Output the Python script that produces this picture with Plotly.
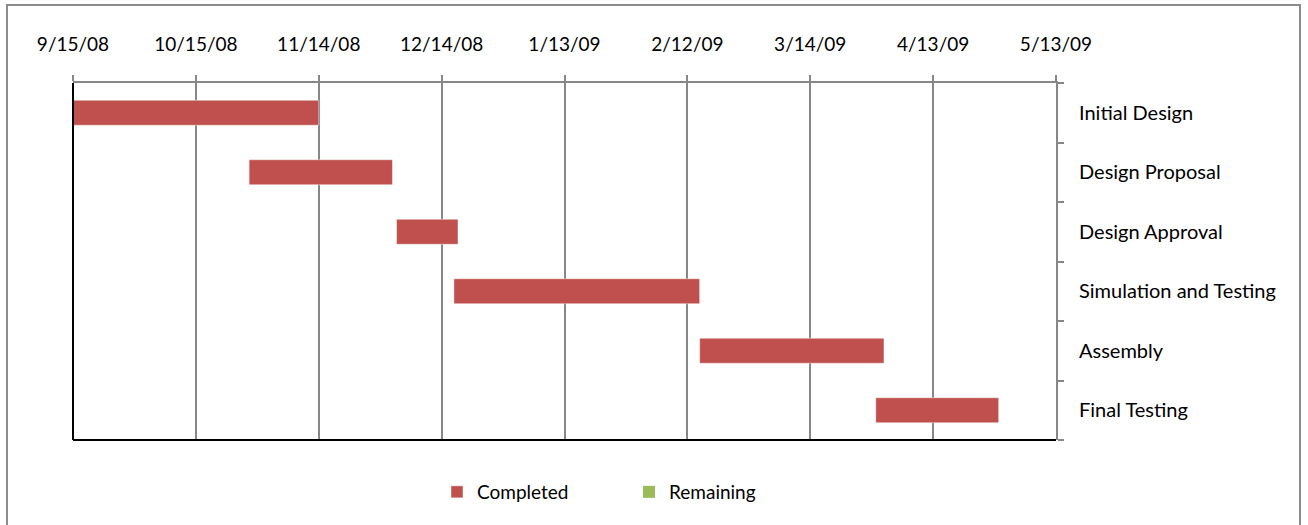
import plotly.graph_objects as go
import pandas as pd

tasks = ["Initial Design", "Design Proposal", "Design Approval",
         "Simulation and Testing", "Assembly", "Final Testing"]
start_dates = ["2008-09-15", "2008-10-28", "2008-12-03",
               "2008-12-17", "2009-02-15", "2009-03-30"]
completed_days = [60, 35, 15, 60, 45, 30]
remaining_days = [0, 0, 0, 0, 0, 0]

DAY_MS = 86400000
starts = pd.to_datetime(start_dates)
ends = [s + pd.Timedelta(days=d) for s, d in zip(starts, completed_days)]

fig = go.Figure()
fig.add_trace(go.Bar(
    y=tasks, x=[d * DAY_MS for d in completed_days],
    base=[s.strftime("%Y-%m-%d") for s in starts],
    orientation="h", name="Completed",
    marker=dict(color="#C0504D", line=dict(color="rgba(255,255,255,0.45)", width=1)),
    width=0.42,
))
fig.add_trace(go.Bar(
    y=tasks, x=[d * DAY_MS for d in remaining_days],
    base=[e.strftime("%Y-%m-%d") for e in ends],
    orientation="h", name="Remaining",
    marker=dict(color="#9BBB59", line=dict(width=0)),
    width=0.42,
))

W, H = 1308, 525
L, R, T, B = 73, 1308 - 1056, 83, 525 - 440
pw, ph = W - L - R, H - T - B

def px(x):
    return (x - L) / pw

def py(y):
    return (H - B - y) / ph

fig.update_layout(
    width=W, height=H,
    margin=dict(l=L, r=R, t=T, b=B),
    paper_bgcolor="white", plot_bgcolor="white",
    barmode="overlay",
    font=dict(family="Lato, 'Open Sans', sans-serif", size=19, color="#000000"),
    showlegend=True,
    legend=dict(orientation="h", x=px(437), xanchor="left", y=py(492), yanchor="middle",
                font=dict(size=19), entrywidth=147, itemwidth=30, traceorder="normal"),
    xaxis=dict(
        type="date", side="top",
        range=["2008-09-15", "2009-05-13"],
        tick0="2008-09-15", dtick=30 * DAY_MS,
        tickformat="%-m/%-d/%y",
        showgrid=True, gridcolor="#878787", gridwidth=2,
        showline=True, linecolor="#878787", linewidth=2,
        ticks="outside", ticklen=6, tickcolor="#878787", tickwidth=2,
        ticklabelstandoff=16,
        zeroline=False, fixedrange=True,
    ),
    yaxis=dict(
        type="category", side="right",
        categoryorder="array", categoryarray=tasks[::-1],
        showgrid=False,
        showline=True, linecolor="#878787", linewidth=2,
        ticks="outside", tickson="boundaries", ticklen=6, tickcolor="#878787", tickwidth=2,
        ticklabelstandoff=17, tickfont=dict(size=20),
        zeroline=False, fixedrange=True,
    ),
    shapes=[
        dict(type="line", xref="paper", yref="paper", x0=0, x1=1, y0=0, y1=0,
             line=dict(color="black", width=2), layer="above"),
        dict(type="line", xref="paper", yref="paper", x0=0, x1=0, y0=0, y1=1,
             line=dict(color="black", width=2), layer="above"),
        dict(type="rect", xref="paper", yref="paper",
             x0=px(7), x1=px(1300), y0=py(530), y1=py(5),
             line=dict(color="#8C8C8C", width=2), layer="below"),
    ],
)

fig.write_html("out.html", config={"displayModeBar": False},
               post_script="document.body.style.margin='0';")
